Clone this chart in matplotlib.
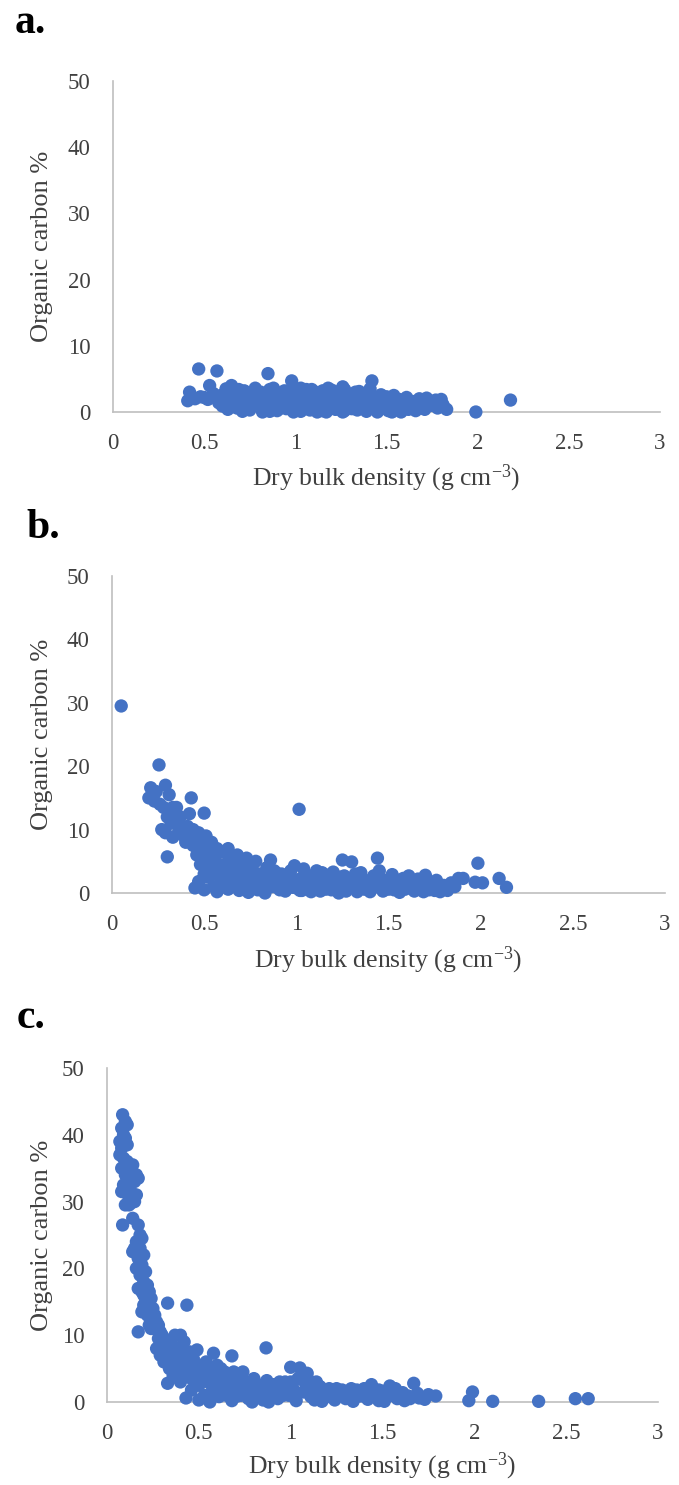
import matplotlib
matplotlib.use("Agg")
import matplotlib.pyplot as plt

plt.rcParams['font.family'] = ['Liberation Serif', 'DejaVu Serif']
plt.rcParams['mathtext.fontset'] = 'custom'
plt.rcParams['mathtext.rm'] = 'Liberation Serif'
plt.rcParams['mathtext.it'] = 'Liberation Serif:italic'

# ---------------- data ----------------
a_x = [0.41, 0.42, 0.47, 0.57, 0.53, 0.50, 0.55, 0.58, 0.62, 0.65, 0.64, 0.63, 0.68, 0.70, 0.72, 0.75,
       0.77, 0.78, 0.80, 0.82, 0.83, 0.85, 0.86, 0.87, 0.88, 0.90, 0.91, 0.93, 0.95, 0.96, 0.98, 0.99,
       1.00, 1.01, 1.03, 1.04, 1.06, 1.07, 1.08, 1.10, 1.11, 1.13, 1.14, 1.16, 1.17, 1.18, 1.19, 1.21,
       1.22, 1.24, 1.25, 1.26, 1.27, 1.29, 1.30, 1.32, 1.33, 1.34, 1.36, 1.37, 1.39, 1.40, 1.41, 1.42,
       1.43, 1.45, 1.46, 1.48, 1.50, 1.51, 1.53, 1.55, 1.57, 1.58, 1.60, 1.62, 1.64, 1.66, 1.68, 1.70,
       1.72, 1.75, 1.78, 1.80, 1.83, 1.99, 2.18,
       0.66, 0.69, 0.74, 0.76, 0.79, 0.81, 0.84, 0.89, 0.92, 0.94, 0.97, 1.02, 1.05, 1.09, 1.12, 1.15,
       1.20, 1.23, 1.28, 1.31, 1.35, 1.38, 1.44, 1.47, 1.49, 1.52, 1.54, 1.56, 1.59, 1.61, 1.63, 1.67,
       1.71, 1.73, 1.77, 1.81, 0.60, 0.71, 0.86, 0.99, 1.12, 1.26, 1.45, 1.53, 0.73, 0.95, 1.15, 1.35,
       0.88, 1.03, 1.09, 1.27,
       0.67, 0.70, 0.74, 0.78, 0.82, 0.86, 0.90, 0.94, 0.98, 1.02, 1.06, 1.10, 1.14, 1.18, 1.22, 1.26,
       1.30, 1.34, 1.38, 1.42, 1.46, 1.50, 0.69, 0.77, 0.85, 0.93, 1.01, 1.09, 1.17, 1.25, 1.33, 1.41,
       0.48, 0.45, 0.52, 0.60, 0.56]
a_y = [1.7, 3.0, 6.5, 6.2, 4.0, 2.2, 2.8, 1.4, 3.5, 4.0, 2.2, 0.4, 0.6, 1.8, 3.2, 0.3,
       2.5, 3.6, 1.2, 0.0, 2.2, 5.8, 3.4, 0.8, 1.9, 0.2, 2.8, 1.3, 0.5, 2.3, 4.7, 3.1,
       0.9, 1.8, 0.1, 2.6, 3.4, 1.2, 0.3, 2.0, 3.0, 0.6, 1.6, 2.7, 0.0, 3.6, 1.0, 2.2,
       0.4, 3.1, 1.5, 3.8, 0.2, 2.4, 0.9, 1.8, 3.0, 0.3, 2.2, 1.2, 0.1, 2.8, 3.5, 4.7,
       1.0, 2.0, 0.4, 1.4, 2.3, 0.2, 1.1, 0.5, 1.9, 0.0, 1.0, 0.4, 1.6, 0.2, 2.0, 0.9,
       2.1, 1.0, 0.6, 1.9, 0.4, 0.0, 1.8,
       1.2, 2.6, 1.5, 0.9, 2.0, 3.0, 1.0, 2.5, 0.6, 3.2, 1.5, 2.9, 0.7, 1.4, 2.4, 0.2,
       3.3, 1.2, 2.9, 0.5, 2.6, 1.7, 0.7, 2.6, 0.9, 1.7, 2.5, 1.2, 1.6, 2.2, 0.8, 1.2,
       0.4, 1.5, 1.8, 1.1, 0.9, 0.1, 0.1, 0.0, 0.0, 0.0, 0.0, 0.0, 2.0, 2.0, 3.2, 3.1,
       3.6, 3.6, 3.4, 3.4,
       1.6, 0.8, 2.4, 1.3, 1.6, 1.8, 1.0, 1.6, 2.0, 1.2, 1.7, 0.9, 2.1, 1.5, 2.6, 1.0,
       2.0, 1.4, 2.4, 1.8, 1.6, 1.2, 3.4, 2.8, 2.6, 2.2, 3.0, 2.4, 3.1, 2.8, 2.1, 2.2,
       2.3, 2.0, 1.9, 2.6, 2.2]

b_x = [0.05, 0.255, 0.21, 0.22, 0.20, 0.23, 0.24, 0.29, 0.31, 0.28, 0.30, 0.27, 0.29, 0.30, 0.33, 0.35,
       0.36, 0.33, 0.38, 0.40, 0.43, 0.42, 0.44, 0.45, 0.47, 0.50, 0.49, 0.51, 0.52, 0.54, 0.55, 0.57,
       0.58, 0.60, 0.62, 0.63, 0.65, 0.67, 0.68, 0.70, 0.72, 0.73, 0.75, 0.77, 0.78, 0.80, 0.82, 0.84,
       0.86, 0.87, 0.89, 0.91, 0.93, 0.95, 0.97, 0.99, 1.015, 1.00, 1.02, 1.04, 1.06, 1.08, 1.10, 1.12,
       1.14, 1.16, 1.18, 1.20, 1.22, 1.25, 1.30, 1.24, 1.27, 1.29, 1.32, 1.34, 1.36, 1.38, 1.40, 1.42,
       1.44, 1.45, 1.46, 1.48, 1.50, 1.52, 1.54, 1.56, 1.58, 1.60, 1.62, 1.64, 1.66, 1.68, 1.70, 1.72,
       1.74, 1.76, 1.78, 1.80, 1.84, 1.88, 1.905, 1.97, 1.985, 2.01, 2.10, 2.14,
       0.45, 0.47, 0.50, 0.52, 0.55, 0.57, 0.60, 0.63, 0.66, 0.69, 0.71, 0.74, 0.76, 0.79, 0.81, 0.83,
       0.85, 0.88, 0.90, 0.92, 0.94, 0.96, 0.98, 1.01, 1.03, 1.05, 1.07, 1.09, 1.11, 1.13, 1.15, 1.17,
       1.19, 1.21, 1.23, 1.26, 1.28, 1.31, 1.33, 1.35, 1.37, 1.39, 1.41, 1.43, 1.47, 1.49, 1.51, 1.53,
       1.55, 1.57, 1.59, 1.61, 1.63, 1.65, 1.67, 1.69, 1.71, 1.73, 1.75, 1.77, 1.79, 1.82, 1.86,
       0.48, 0.50, 0.53, 0.56, 0.59, 0.61, 0.64, 0.66, 0.69, 0.71, 0.74, 0.46, 0.48, 0.39, 0.41, 0.37,
       0.35, 0.32,
       0.26, 0.32, 0.36, 0.40, 0.44, 0.48, 0.52, 0.56, 0.60, 0.64, 0.68, 0.72, 0.76, 0.80, 0.84, 0.88,
       0.92, 0.96, 1.00, 1.04, 1.08, 1.12, 1.16, 1.20, 1.24, 1.28, 1.32, 1.36, 1.40, 1.44, 1.48, 1.52,
       0.62, 0.70, 0.78, 0.86, 0.94, 1.02, 1.10, 1.18]
b_y = [29.5, 20.2, 16.6, 15.5, 15.0, 14.5, 16.0, 17.0, 15.5, 13.5, 12.0, 10.0, 9.5, 5.7, 13.5, 11.5,
       9.5, 8.8, 10.5, 8.0, 15.0, 12.5, 10.0, 8.5, 9.5, 12.6, 7.5, 9.0, 6.5, 8.0, 5.5, 7.0,
       4.5, 6.5, 3.5, 7.0, 5.0, 3.0, 6.0, 4.5, 2.5, 5.5, 3.8, 1.5, 5.0, 3.0, 2.0, 4.0,
       5.2, 1.0, 3.2, 0.5, 2.5, 1.5, 3.5, 4.3, 13.2, 0.8, 2.2, 3.8, 1.2, 0.2, 2.8, 1.5,
       3.2, 0.6, 2.2, 3.3, 1.0, 5.2, 4.9, 2.5, 0.3, 1.8, 3.0, 0.8, 2.2, 1.3, 0.2, 2.7,
       5.5, 3.5, 1.2, 2.0, 0.6, 2.9, 1.5, 0.1, 2.3, 1.0, 1.8, 0.3, 2.2, 1.0, 2.8, 0.5,
       1.6, 2.0, 0.2, 1.2, 1.6, 2.3, 2.3, 1.7, 4.7, 1.6, 2.3, 0.9,
       0.8, 1.8, 0.5, 2.5, 1.0, 0.2, 1.5, 0.6, 1.8, 0.4, 1.2, 0.1, 2.8, 0.5, 1.0, 0.0,
       1.5, 2.0, 1.2, 3.0, 0.3, 2.0, 0.9, 1.6, 0.4, 2.6, 1.8, 0.8, 3.5, 0.3, 1.9, 2.8,
       0.5, 1.9, 0.0, 2.7, 1.0, 1.5, 0.2, 3.2, 0.6, 1.9, 0.7, 1.5, 0.3, 1.4, 2.2, 0.5,
       2.0, 1.0, 0.6, 2.7, 1.3, 0.8, 1.5, 0.2, 1.8, 1.0, 0.4, 1.3, 1.0, 0.4, 1.0,
       4.5, 3.0, 4.0, 3.0, 2.2, 4.5, 2.5, 4.0, 2.8, 3.5, 3.0, 6.0, 5.8, 9.0, 10.5, 12.0,
       13.5, 11.0,
       14.0, 12.5, 10.8, 9.5, 7.5, 6.8, 5.2, 5.8, 3.8, 5.5, 4.2, 3.5, 4.2, 2.2, 2.8, 3.5,
       1.8, 2.8, 2.0, 1.8, 2.4, 1.0, 1.9, 1.6, 1.6, 2.2, 1.0, 1.6, 1.4, 1.9, 1.8, 1.2,
       2.8, 2.0, 3.0, 2.4, 1.2, 0.4, 1.2, 0.8]

c_x = [0.085, 0.10, 0.11, 0.08, 0.09, 0.07, 0.10, 0.08, 0.07, 0.09, 0.11, 0.08, 0.10, 0.14, 0.16, 0.17,
       0.15, 0.12, 0.09, 0.11, 0.13, 0.16, 0.08, 0.12, 0.15, 0.10, 0.13, 0.085, 0.17, 0.18, 0.16, 0.19,
       0.15, 0.18, 0.20, 0.14, 0.17, 0.19, 0.16, 0.21, 0.18, 0.20, 0.22, 0.17, 0.19, 0.23, 0.21, 0.24,
       0.20, 0.22, 0.25, 0.19, 0.24, 0.27, 0.23, 0.26, 0.17, 0.29, 0.28, 0.31, 0.33, 0.435, 0.30, 0.33,
       0.35, 0.37, 0.40, 0.42, 0.38, 0.32, 0.36, 0.40, 0.43, 0.45, 0.49, 0.58, 0.68, 0.33, 0.40, 0.43,
       0.50, 0.38, 0.42, 0.46, 0.48, 0.50, 0.52, 0.54, 0.55, 0.57, 0.59, 0.60, 0.62, 0.63, 0.65, 0.66,
       0.68, 0.70, 0.72, 0.73, 0.75, 0.77, 0.78, 0.80, 0.82, 0.84, 0.866, 0.85, 0.87, 0.89, 0.91, 0.93,
       0.95, 0.97, 0.99, 1.00, 1.05, 1.01, 1.03, 1.04, 1.06, 1.07, 1.08, 1.09, 1.10, 1.11, 1.12, 1.14,
       1.15, 1.17, 1.18, 1.20, 1.22, 1.24, 1.26, 1.28, 1.30, 1.32, 1.34, 1.36, 1.38, 1.40, 1.42, 1.44,
       1.46, 1.48, 1.50, 1.52, 1.54, 1.56, 1.58, 1.60, 1.62, 1.64, 1.67, 1.70, 1.73, 1.79, 1.97, 1.99,
       2.10, 2.35, 2.55, 2.62,
       0.46, 0.53, 0.56, 0.61, 0.64, 0.67, 0.71, 0.74, 0.76, 0.79, 0.81, 0.83, 0.88, 0.90, 0.92, 0.94,
       0.96, 0.98, 1.02, 1.13, 1.16, 1.19, 1.21, 1.25, 1.29, 1.33, 1.35, 1.39, 1.43, 1.47, 1.51, 1.55,
       1.57, 1.61, 1.65, 1.69, 1.75,
       0.27, 0.29, 0.31, 0.34, 0.36, 0.39, 0.41, 0.44, 0.47, 0.51, 0.56, 0.60, 0.64, 0.69, 0.74,
       0.11, 0.13, 0.12, 0.14, 0.18, 0.20, 0.22, 0.24, 0.26, 0.28, 0.30, 0.32, 0.35, 0.38, 0.41, 0.45,
       0.50, 0.55, 0.60, 0.65, 0.70, 0.76, 0.82, 0.88, 0.94, 1.00, 1.06, 1.12, 1.18, 1.24, 1.30, 1.36,
       1.42, 1.48]
c_y = [43.0, 42.0, 41.5, 41.0, 40.0, 39.0, 39.5, 38.0, 37.0, 36.5, 36.0, 35.0, 34.0, 35.5, 34.0, 33.5,
       33.0, 33.0, 32.5, 32.0, 31.5, 31.0, 31.5, 30.5, 30.0, 29.5, 29.8, 26.5, 26.5, 25.0, 24.0, 24.5,
       23.0, 23.0, 22.0, 22.5, 21.5, 20.5, 20.0, 19.5, 19.0, 18.0, 17.5, 17.0, 16.5, 16.5, 15.5, 15.5,
       14.5, 14.0, 14.0, 13.5, 12.5, 12.0, 11.5, 11.0, 10.5, 10.5, 9.5, 9.5, 14.8, 14.5, 8.5, 8.0,
       9.0, 10.0, 10.0, 9.0, 8.0, 7.0, 6.5, 7.0, 6.0, 7.5, 7.8, 7.3, 6.9, 2.8, 3.0, 0.6,
       0.3, 4.5, 4.0, 3.5, 5.0, 2.5, 4.5, 6.0, 3.0, 1.5, 4.0, 2.0, 5.0, 3.0, 1.0, 3.8,
       0.2, 2.5, 4.0, 1.0, 3.0, 0.5, 2.0, 3.5, 1.2, 2.5, 8.1, 0.3, 3.2, 1.5, 2.6, 0.5,
       2.0, 3.0, 1.0, 5.2, 5.1, 2.2, 0.2, 3.5, 4.0, 1.5, 2.8, 4.3, 3.2, 0.8, 2.0, 3.0,
       1.2, 0.1, 1.8, 0.8, 1.6, 0.3, 1.2, 1.8, 0.5, 1.5, 0.1, 1.8, 0.9, 2.0, 0.4, 2.6,
       1.2, 0.2, 1.6, 0.8, 2.4, 1.5, 0.5, 1.0, 0.2, 0.9, 2.8, 0.6, 0.4, 0.9, 0.2, 1.5,
       0.1, 0.1, 0.5, 0.5,
       1.8, 1.0, 0.0, 0.8, 2.2, 1.5, 0.9, 2.2, 1.5, 0.0, 2.5, 0.8, 0.0, 0.8, 1.8, 3.0,
       1.0, 2.2, 1.2, 0.3, 2.3, 1.0, 2.0, 2.0, 1.0, 2.0, 1.0, 1.5, 1.5, 0.8, 0.1, 1.0,
       2.0, 1.4, 0.5, 1.3, 1.1,
       8.0, 7.0, 6.0, 5.0, 4.0, 5.5, 6.5, 5.0, 6.5, 5.5, 5.0, 5.5, 4.5, 4.5, 4.5,
       38.5, 34.5, 29.5, 27.5, 21.0, 16.0, 13.0, 11.0, 13.0, 11.5, 10.0, 8.8, 7.5, 6.8, 8.2, 4.2,
       4.0, 3.8, 3.2, 2.8, 2.0, 2.8, 2.2, 1.8, 1.6, 3.0, 3.6, 1.6, 1.4, 1.0, 1.3, 1.0,
       1.2, 1.8]

panels = [("a.", a_x, a_y), ("b.", b_x, b_y), ("c.", c_x, c_y)]
x_ticks = [0, 0.5, 1, 1.5, 2, 2.5, 3]
x_ticklabels = ["0", "0.5", "1", "1.5", "2", "2.5", "3"]
y_ticks = [0, 10, 20, 30, 40, 50]
x_label = "Dry bulk density (g cm$^{-3}$)"
y_label = "Organic carbon %"

# ---------------- layout ----------------
W, H = 679, 1485
fig = plt.figure(figsize=(W / 100, H / 100), dpi=100)

# axes boxes in pixels: (left, right, top, bottom)
boxes = [(113, 660, 81, 412), (112, 665, 576, 893), (107, 658, 1068, 1402)]
panel_label_pos = [(15, 23), (26, 528), (17, 1018)]
xlabel_y = [478, 960, 1466]

marker_color = "#4472C4"
text_color = "#404040"
spine_color = "#BFBFBF"

for (lab, xs, ys), (l, r, t, b), (plx, ply), xly in zip(panels, boxes, panel_label_pos, xlabel_y):
    ax = fig.add_axes([l / W, 1 - b / H, (r - l) / W, (b - t) / H])
    ax.scatter(xs, ys, s=92, color=marker_color, edgecolors="none", zorder=3, clip_on=False)
    ax.set_xlim(0, 3)
    ax.set_ylim(0, 50)
    ax.set_xticks(x_ticks)
    ax.set_xticklabels(x_ticklabels)
    ax.set_yticks(y_ticks)
    for s in ("top", "right"):
        ax.spines[s].set_visible(False)
    for s in ("left", "bottom"):
        ax.spines[s].set_color(spine_color)
        ax.spines[s].set_linewidth(1.2)
    ax.tick_params(length=0, labelsize=16.5, labelcolor=text_color)
    ax.tick_params(axis="x", pad=15)
    ax.tick_params(axis="y", pad=16)
    ax.set_ylabel(y_label, fontsize=19, color=text_color)
    ax.yaxis.label.set_va("center")
    ax.yaxis.set_label_coords((42 - l) / (r - l), 0.5)
    ax.set_xlabel(x_label, fontsize=18.5, color=text_color)
    ax.xaxis.label.set_va("center")
    ax.xaxis.set_label_coords(0.5, (b - xly) / (b - t))
    fig.text(plx / W, 1 - ply / H, lab, fontsize=30, fontweight="bold",
             color="black", ha="left", va="center")

fig.savefig("out.png", dpi=100)
